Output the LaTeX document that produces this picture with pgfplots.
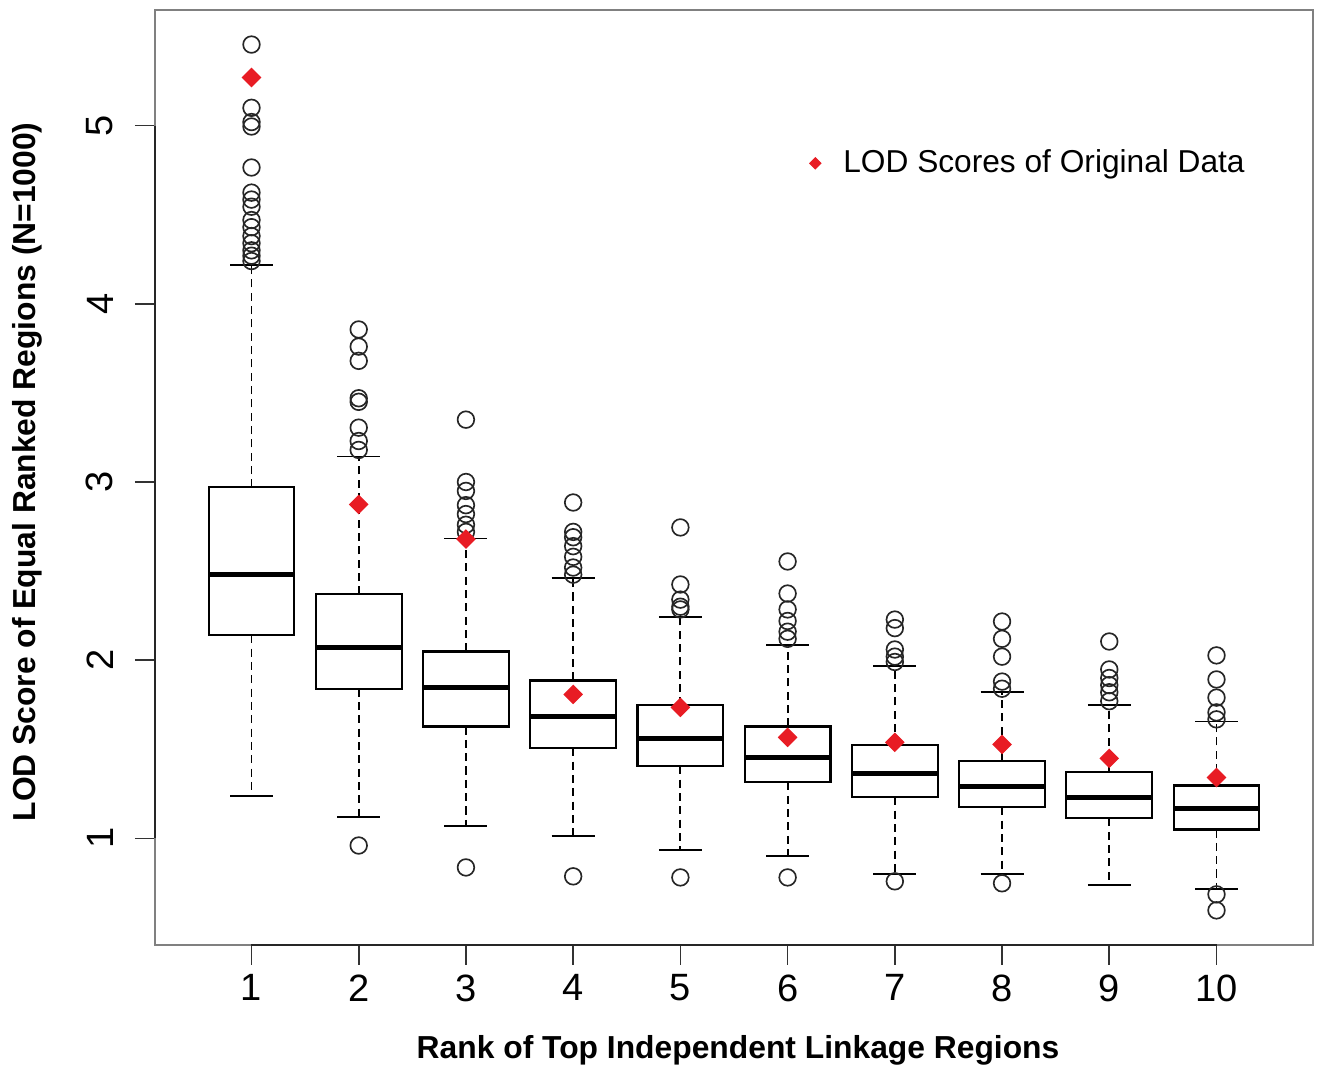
\documentclass[border=0pt]{standalone}
\usepackage{pgfplots}
\pgfplotsset{compat=1.18}
\usepgfplotslibrary{statistics}
\usepackage{fontspec}
\setmainfont{Liberation Sans}
\definecolor{lodred}{RGB}{232,28,36}
\pgfplotsset{
  bp/.style={forget plot, black, mark=o, mark size=3pt,
    mark options={solid, line width=0.6pt, draw=black!85}},
}
\begin{document}
\begin{tikzpicture}
\begin{axis}[
  name=ax,
  scale only axis,
  width=416.9pt, height=336.6pt,
  xmin=0.1, xmax=10.9, ymin=0.402, ymax=5.649,
  axis line style={black!50, line width=0.6pt},
  xtick={1,2,3,4,5,6,7,8,9,10}, ytick={1,2,3,4,5},
  tick pos=left, tick align=outside,
  major tick length=7.2pt,
  tick style={black!80, line width=0.6pt},
  /pgf/number format/assume math mode=true,
  tick label style={font=\fontsize{13.7}{14}\selectfont},
  yticklabel style={rotate=90, anchor=south, yshift=4.3pt},
  every axis x label/.style={at={(axis description cs:0.5035,-0.1123)}, anchor=center},
  every axis y label/.style={at={(axis description cs:-0.1105,0.506)}, rotate=90, anchor=center},
  label style={font=\fontsize{11.45}{13}\selectfont\bfseries},
  xlabel={Rank of Top Independent Linkage Regions},
  ylabel={LOD Score of Equal Ranked Regions (N=1000)},
  boxplot/draw direction=y,
  boxplot/box extend=0.8,
  boxplot/whisker extend=0.4,
  boxplot/every box/.style={draw=black, line width=0.75pt},
  boxplot/every median/.style={line width=1.9pt},
  boxplot/draw/lower whisker/.code={%
    \draw[black, line width=0.7pt, dash pattern=on 2.9pt off 1.9pt]
      (boxplot box cs:\pgfplotsboxplotvalue{lower quartile},0.5) --
      (boxplot box cs:\pgfplotsboxplotvalue{lower whisker},0.5);
    \draw[black, line width=0.7pt]
      (boxplot whisker cs:\pgfplotsboxplotvalue{lower whisker},0) --
      (boxplot whisker cs:\pgfplotsboxplotvalue{lower whisker},1);
  },
  boxplot/draw/upper whisker/.code={%
    \draw[black, line width=0.7pt, dash pattern=on 2.9pt off 1.9pt]
      (boxplot box cs:\pgfplotsboxplotvalue{upper quartile},0.5) --
      (boxplot box cs:\pgfplotsboxplotvalue{upper whisker},0.5);
    \draw[black, line width=0.7pt]
      (boxplot whisker cs:\pgfplotsboxplotvalue{upper whisker},0) --
      (boxplot whisker cs:\pgfplotsboxplotvalue{upper whisker},1);
  },
  legend style={draw=none, fill=none, at={(axis description cs:0.565,0.836)}, anchor=west,
    font=\fontsize{11.4}{13}\selectfont, inner sep=0pt, nodes={inner sep=1pt}},
  clip=false,
]
\addplot[bp, boxplot prepared={draw position=1, lower whisker=1.236, lower quartile=2.14, median=2.48, upper quartile=2.97, upper whisker=4.22}]
  table[row sep=\\, y index=0] {y\\ 5.455\\ 5.10\\ 5.02\\ 4.995\\ 4.765\\ 4.624\\ 4.585\\ 4.545\\ 4.47\\ 4.43\\ 4.38\\ 4.34\\ 4.30\\ 4.27\\ 4.24\\};
\addplot[bp, boxplot prepared={draw position=2, lower whisker=1.118, lower quartile=1.84, median=2.07, upper quartile=2.369, upper whisker=3.143}]
  table[row sep=\\, y index=0] {y\\ 3.856\\ 3.76\\ 3.68\\ 3.47\\ 3.45\\ 3.305\\ 3.23\\ 3.18\\ 0.96\\};
\addplot[bp, boxplot prepared={draw position=3, lower whisker=1.067, lower quartile=1.628, median=1.847, upper quartile=2.049, upper whisker=2.683}]
  table[row sep=\\, y index=0] {y\\ 3.35\\ 3.0\\ 2.95\\ 2.87\\ 2.82\\ 2.76\\ 2.72\\ 0.837\\};
\addplot[bp, boxplot prepared={draw position=4, lower whisker=1.011, lower quartile=1.505, median=1.684, upper quartile=1.886, upper whisker=2.459}]
  table[row sep=\\, y index=0] {y\\ 2.885\\ 2.72\\ 2.69\\ 2.64\\ 2.58\\ 2.52\\ 2.48\\ 0.787\\};
\addplot[bp, boxplot prepared={draw position=5, lower whisker=0.933, lower quartile=1.404, median=1.561, upper quartile=1.746, upper whisker=2.245}]
  table[row sep=\\, y index=0] {y\\ 2.745\\ 2.425\\ 2.34\\ 2.30\\ 2.285\\ 0.781\\};
\addplot[bp, boxplot prepared={draw position=6, lower whisker=0.9, lower quartile=1.314, median=1.454, upper quartile=1.628, upper whisker=2.083}]
  table[row sep=\\, y index=0] {y\\ 2.554\\ 2.374\\ 2.285\\ 2.22\\ 2.16\\ 2.12\\ 0.781\\};
\addplot[bp, boxplot prepared={draw position=7, lower whisker=0.798, lower quartile=1.23, median=1.365, upper quartile=1.522, upper whisker=1.965}]
  table[row sep=\\, y index=0] {y\\ 2.228\\ 2.18\\ 2.06\\ 2.02\\ 1.99\\ 0.759\\};
\addplot[bp, boxplot prepared={draw position=8, lower whisker=0.798, lower quartile=1.174, median=1.292, upper quartile=1.432, upper whisker=1.82}]
  table[row sep=\\, y index=0] {y\\ 2.217\\ 2.12\\ 2.02\\ 1.88\\ 1.84\\ 0.748\\};
\addplot[bp, boxplot prepared={draw position=9, lower whisker=0.736, lower quartile=1.112, median=1.23, upper quartile=1.37, upper whisker=1.746}]
  table[row sep=\\, y index=0] {y\\ 2.105\\ 1.948\\ 1.90\\ 1.86\\ 1.82\\ 1.77\\};
\addplot[bp, boxplot prepared={draw position=10, lower whisker=0.714, lower quartile=1.05, median=1.168, upper quartile=1.297, upper whisker=1.656}]
  table[row sep=\\, y index=0] {y\\ 2.027\\ 1.892\\ 1.79\\ 1.707\\ 1.668\\ 0.686\\ 0.596\\};
\addplot[only marks, color=lodred, mark=square*, mark size=2.3pt,
  mark options={rotate=45, draw=none, fill=lodred},
  legend image code/.code={\path[draw=none, fill=none] (0cm,0cm) -- (0.32cm,0cm); \draw[mark size=1.4pt] plot coordinates {(0cm,0cm)};}]
  coordinates {(1,5.27) (2,2.874) (3,2.68) (4,1.808) (5,1.735) (6,1.567) (7,1.539) (8,1.527) (9,1.449) (10,1.342)};
\addlegendentry{LOD Scores of Original Data}
\draw[black!85, line width=0.8pt] (axis cs:0.1,1) -- (axis cs:0.1,5);
\draw[black!85, line width=0.8pt] (axis cs:1,0.402) -- (axis cs:10,0.402);
\end{axis}
\pgfresetboundingbox
\path[use as bounding box] ([shift={(-55.8pt,-44.3pt)}]ax.south west) rectangle ([shift={(1.8pt,3.6pt)}]ax.north east);
\end{tikzpicture}
\end{document}
